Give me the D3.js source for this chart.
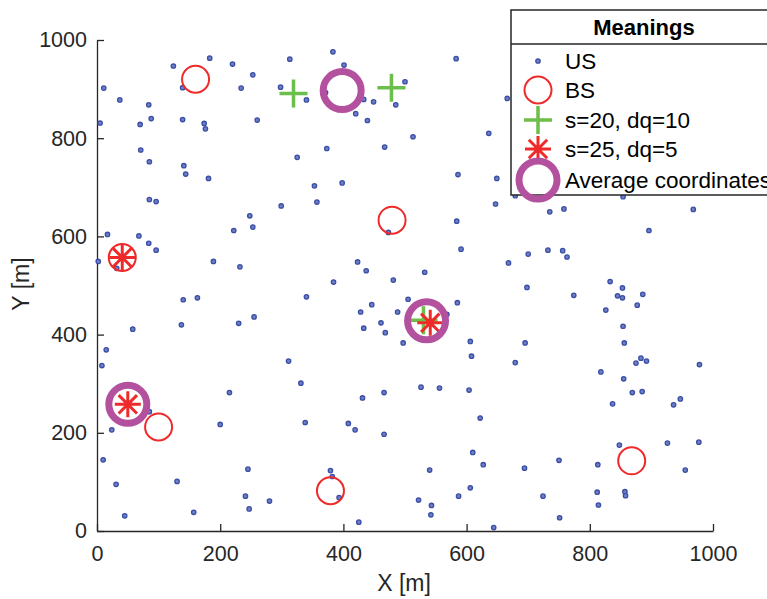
<!DOCTYPE html>
<html>
<head>
<meta charset="utf-8">
<script src="https://cdn.jsdelivr.net/npm/d3@7"></script>
<style>
  body { margin: 0; background: #fff; }
  svg { font-family: "Liberation Sans", Arial, sans-serif; }
  .axis path, .axis line { stroke: #262626; stroke-width: 1.3; }
  .axis text { fill: #262626; font-size: 21.5px; }
</style>
</head>
<body>
<svg width="767" height="599"></svg>
<script>
// user stations (US)
var usX = [11,37,84,5,70,88,124,139,183,220,253,234,139,174,176,260,313,298,340,383,401,433,449,420,439,485,500,371,
  71,85,141,144,181,325,373,467,353,398,85,96,299,357,248,253,222,17,68,84,96,2,32,189,232,423,437,384,481,473,
  583,666,513,636,586,649,647,735,758,968,854,679,584,896,591,700,732,756,763,668,532,833,698,853,
  140,163,137,58,15,8,230,255,340,311,331,215,200,338,85,24,10,31,45,130,157,245,241,247,280,379,382,393,425,
  428,446,433,461,468,488,497,505,431,466,408,419,466,
  585,568,774,845,853,886,877,826,854,856,606,608,695,679,818,875,883,892,978,855,869,885,837,936,947,
  526,556,604,622,610,627,694,750,813,848,926,977,955,540,522,543,542,587,606,724,751,644,812,857,858,814];
var usY = [902,878,868,831,828,840,947,903,963,951,929,902,838,830,819,837,961,904,878,976,949,879,874,850,836,868,915,893,
  776,752,744,727,718,761,779,782,703,709,675,671,662,670,642,619,612,604,601,586,572,549,535,549,538,548,530,507,511,608,
  962,881,803,810,726,718,666,650,656,655,681,683,631,612,574,564,572,571,558,546,527,508,496,495,
  471,475,420,411,369,337,423,436,477,346,301,282,217,221,243,206,145,95,31,101,38,126,71,45,61,123,111,68,18,
  446,461,413,424,404,446,383,472,271,282,219,206,197,
  465,441,480,479,475,482,460,450,417,383,386,356,383,343,324,342,352,346,339,310,282,284,259,257,269,
  293,291,287,230,160,135,128,144,135,175,179,181,124,124,63,52,33,71,88,71,27,7,79,80,72,53];

// base stations (BS)
var bsX = [160,479,100,379,868,41];
var bsY = [920,633,212,82,143,557];

// s=20, dq=10
var plusX = [319,478,530];
var plusY = [891,903,429];

// s=25, dq=5
var starX = [41,50,541];
var starY = [557,258,424];

// average coordinates
var avgX = [398,50,535];
var avgY = [897,258,428];

var xTicks = [0,200,400,600,800,1000];
var yTicks = [0,200,400,600,800,1000];

var legendLabels = ["US", "BS", "s=20, dq=10", "s=25, dq=5", "Average coordinates"];

var svg = d3.select("svg"),
    margin = {top: 40, right: 54, bottom: 68, left: 97},
    width = svg.attr("width") - margin.left - margin.right,
    height = svg.attr("height") - margin.top - margin.bottom;

var g = svg.append("g").attr("transform", "translate(" + margin.left + "," + margin.top + ")");

var x = d3.scaleLinear().domain([0, 1000]).range([0, width]),
    y = d3.scaleLinear().domain([0, 1000]).range([height, 0]);

var blue = "#3a4ea6", red = "#ee2a2a", green = "#6cbf4a", purple = "#b4519f";

// axes, ticks pointing inward
g.append("g")
    .attr("class", "axis")
    .attr("transform", "translate(0," + height + ")")
    .call(d3.axisBottom(x).tickValues(xTicks).tickFormat(d3.format("d")).tickSize(-7).tickSizeOuter(0).tickPadding(15));

g.append("g")
    .attr("class", "axis")
    .call(d3.axisLeft(y).tickValues(yTicks).tickFormat(d3.format("d")).tickSize(-7).tickSizeOuter(0).tickPadding(10));

g.selectAll(".axis .domain").attr("stroke", "#262626");

// axis labels
svg.append("text")
    .attr("x", 404)
    .attr("y", 591)
    .attr("text-anchor", "middle")
    .attr("fill", "#262626")
    .style("font-size", "23px")
    .text("X [m]");

svg.append("text")
    .attr("transform", "translate(29,284) rotate(-90)")
    .attr("text-anchor", "middle")
    .attr("fill", "#262626")
    .style("font-size", "23px")
    .text("Y [m]");

// marker helpers
function plusPath(cx, cy, s) {
  return "M" + (cx - s) + "," + cy + "H" + (cx + s) + "M" + cx + "," + (cy - s) + "V" + (cy + s);
}
function starPath(cx, cy, s) {
  var d = s * Math.SQRT1_2;
  return plusPath(cx, cy, s) +
    "M" + (cx - d) + "," + (cy - d) + "L" + (cx + d) + "," + (cy + d) +
    "M" + (cx - d) + "," + (cy + d) + "L" + (cx + d) + "," + (cy - d);
}

// US
g.selectAll(".us")
  .data(d3.range(usX.length))
  .enter().append("circle")
    .attr("class", "us")
    .attr("cx", function(i) { return x(usX[i]); })
    .attr("cy", function(i) { return y(usY[i]); })
    .attr("r", 2.2)
    .attr("fill", "#6f7fc4")
    .attr("stroke", blue)
    .attr("stroke-width", 1.3);

// BS
g.selectAll(".bs")
  .data(d3.range(bsX.length))
  .enter().append("circle")
    .attr("cx", function(i) { return x(bsX[i]); })
    .attr("cy", function(i) { return y(bsY[i]); })
    .attr("r", 13.5)
    .attr("fill", "none")
    .attr("stroke", red)
    .attr("stroke-width", 2);

// plus
g.selectAll(".plus")
  .data(d3.range(plusX.length))
  .enter().append("path")
    .attr("d", function(i) { return plusPath(x(plusX[i]), y(plusY[i]), 14); })
    .attr("stroke", green)
    .attr("stroke-width", 3.5)
    .attr("fill", "none");

// asterisk
g.selectAll(".star")
  .data(d3.range(starX.length))
  .enter().append("path")
    .attr("d", function(i) { return starPath(x(starX[i]), y(starY[i]), 13); })
    .attr("stroke", red)
    .attr("stroke-width", 3)
    .attr("fill", "none");

// average coordinates
g.selectAll(".avg")
  .data(d3.range(avgX.length))
  .enter().append("circle")
    .attr("cx", function(i) { return x(avgX[i]); })
    .attr("cy", function(i) { return y(avgY[i]); })
    .attr("r", 19)
    .attr("fill", "none")
    .attr("stroke", purple)
    .attr("stroke-width", 7);

// legend
var lg = svg.append("g").attr("transform", "translate(511,10)");
lg.append("rect")
    .attr("width", 266).attr("height", 185)
    .attr("fill", "#fff").attr("stroke", "#262626").attr("stroke-width", 1.5);
lg.append("line")
    .attr("x1", 0).attr("x2", 266).attr("y1", 34).attr("y2", 34)
    .attr("stroke", "#262626").attr("stroke-width", 1.5);
lg.append("text")
    .attr("x", 133).attr("y", 25)
    .attr("text-anchor", "middle")
    .attr("fill", "#000")
    .style("font-size", "22px").style("font-weight", "bold")
    .text("Meanings");

var rowY = [51, 80, 110, 139, 170];
var mx = 27;
lg.append("circle").attr("cx", mx).attr("cy", rowY[0]).attr("r", 2.2)
    .attr("fill", "#6f7fc4").attr("stroke", blue).attr("stroke-width", 1.3);
lg.append("circle").attr("cx", mx).attr("cy", rowY[1]).attr("r", 13.5)
    .attr("fill", "none").attr("stroke", red).attr("stroke-width", 2);
lg.append("path").attr("d", plusPath(mx, rowY[2], 14))
    .attr("stroke", green).attr("stroke-width", 3.5).attr("fill", "none");
lg.append("path").attr("d", starPath(mx, rowY[3], 13))
    .attr("stroke", red).attr("stroke-width", 3).attr("fill", "none");
lg.append("circle").attr("cx", mx).attr("cy", rowY[4]).attr("r", 19)
    .attr("fill", "none").attr("stroke", purple).attr("stroke-width", 7);

lg.selectAll(".ltext")
  .data(legendLabels)
  .enter().append("text")
    .attr("x", 54)
    .attr("y", function(d, i) { return rowY[i] + 8; })
    .attr("fill", "#000")
    .style("font-size", "22.5px")
    .text(function(d) { return d; });
</script>
</body>
</html>
